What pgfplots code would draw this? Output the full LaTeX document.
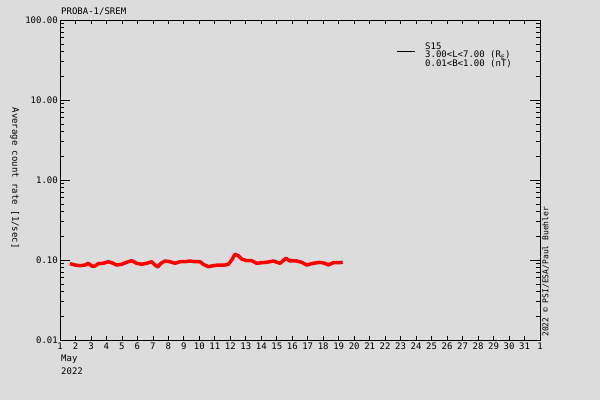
\documentclass[border=0pt]{standalone}
\usepackage{fontspec}
\setmainfont{DejaVu Sans Mono}
\usepackage{pgfplots}
\pgfplotsset{compat=1.18}
\definecolor{bg}{RGB}{220,220,220}

% S15 count rate, May 2022 (day of month, counts/s)
\pgfplotstableread{
day    rate
1.646  0.0899
1.969  0.0866
2.292  0.0849
2.615  0.0866
2.828  0.0910
3.047  0.0841
3.260  0.0841
3.473  0.0899
3.796  0.0910
4.119  0.0952
4.339  0.0925
4.662  0.0866
4.985  0.0884
5.308  0.0936
5.631  0.0980
5.953  0.0910
6.276  0.0884
6.599  0.0910
6.922  0.0952
7.135  0.0866
7.310  0.0818
7.523  0.0910
7.781  0.0972
8.104  0.0952
8.427  0.0910
8.750  0.0952
9.073  0.0952
9.396  0.0972
9.719  0.0952
10.042 0.0952
10.255 0.0884
10.578 0.0825
10.900 0.0849
11.223 0.0866
11.656 0.0866
11.869 0.0884
12.089 0.1000
12.302 0.1178
12.515 0.1132
12.735 0.1029
13.058 0.0980
13.381 0.0980
13.704 0.0910
14.026 0.0925
14.349 0.0936
14.776 0.0972
15.208 0.0910
15.596 0.1050
15.854 0.0972
16.287 0.0972
16.610 0.0936
16.933 0.0866
17.359 0.0910
17.791 0.0936
18.114 0.0910
18.328 0.0866
18.650 0.0925
18.973 0.0925
19.257 0.0936
}\srem

\begin{document}
\begin{tikzpicture}[x=1pt,y=1pt,font=\fontsize{9}{9}\selectfont]
\fill[bg] (-60,-60) rectangle (540,340);
\useasboundingbox (-60,-60) rectangle (540,340);
\begin{axis}[
    at={(0,0)}, anchor=south west,
    scale only axis, width=480pt, height=320pt,
    axis background/.style={fill=bg},
    ymode=log, ymin=0.01, ymax=100,
    xmin=1, xmax=32,
    xtick={1,...,32},
    xticklabels={1,2,3,4,5,6,7,8,9,10,11,12,13,14,15,16,17,18,19,20,21,22,23,24,25,26,27,28,29,30,31,1},
    major x tick style={draw=none},
    minor xtick={1,...,32},
    ytick={0.01,0.1,1,10,100},
    yticklabels={0.01,0.10,1.00,10.00,100.00},
    tick align=inside,
    major tick length=10pt, minor tick length=4pt,
    tick style={black, line width=0.8pt},
    axis line style={line width=0.8pt},
    xticklabel style={inner sep=1pt, yshift=-2pt},
    yticklabel style={inner sep=2pt},
    ylabel={Average count rate [1/sec]},
    every axis y label/.style={at={(axis description cs:-0.094,0.506)},
        rotate=-90, anchor=center},
    clip=false,
]
\addplot[red, line width=3.5pt, line join=round] table[x=day, y=rate] {\srem};
\end{axis}
\node[anchor=base west, inner sep=0] at (1,326) {PROBA-1/SREM};
\node[anchor=base west, inner sep=0] at (1,-21) {May};
\node[anchor=base west, inner sep=0] at (1,-34) {2022};
\draw[black, line width=0.8pt] (337,289) -- (355,289);
\node[anchor=north west, inner sep=0, align=left,
      font=\fontsize{9}{8}\selectfont] at (365,297)
  {S15\\3.00<L<7.00 (R$_\mathrm{E}$)\\0.01<B<1.00 (nT)};
\node[rotate=90, anchor=north west, inner sep=0, font=\fontsize{8}{8}\selectfont]
  at (482,3) {2022 © PSI/ESA/Paul Buehler};
\end{tikzpicture}
\end{document}
